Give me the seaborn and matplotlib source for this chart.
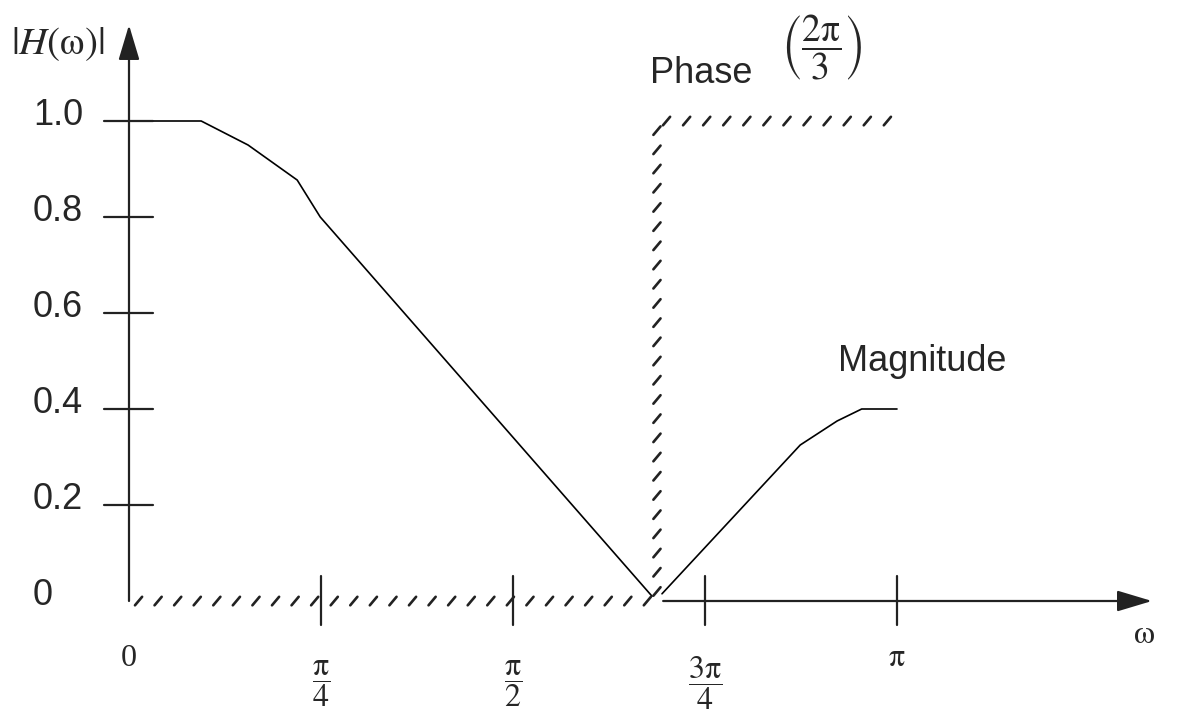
import numpy as np
import pandas as pd
import seaborn as sns
import matplotlib.pyplot as plt
from matplotlib import patheffects

# frequency in units of pi, magnitude |H(w)|
mag_left_w = [0, 0.094, 0.155, 0.219, 0.249, 0.681]
mag_left_h = [1.0, 1.0, 0.95, 0.877, 0.8, 0.01]
mag_right_w = [0.694, 0.874, 0.922, 0.954, 1.0]
mag_right_h = [0.015, 0.325, 0.375, 0.4, 0.4]

# phase (hatched), jumps to 2pi/3 at the zero of the magnitude
phase_w = [0, 0.6875, 0.6875, 1.0]
phase_h = [0, 0, 1, 1]

y_ticks = [0, 0.2, 0.4, 0.6, 0.8, 1.0]
y_ticklabels = ['0', '0.2', '0.4', '0.6', '0.8', '1.0']
x_ticks = [0, 0.25, 0.5, 0.75, 1.0]
x_ticklabels = ['0', r'$\dfrac{\mathrm{\pi}}{4}$', r'$\dfrac{\mathrm{\pi}}{2}$',
                r'$\dfrac{3\mathrm{\pi}}{4}$', r'$\mathrm{\pi}$']

sns.set_style('white')
plt.rcParams['font.family'] = ['Liberation Sans', 'DejaVu Sans']
plt.rcParams['mathtext.fontset'] = 'stix'

fig = plt.figure(figsize=(11.96, 7.15), dpi=100)
ax = fig.add_axes([0, 0, 1, 1])
ax.set_xlim(-129 / 768, (1196 - 129) / 768)
ax.set_ylim((601 - 715) / 480, 601 / 480)
ax.axis('off')

axcol = '#222222'

# magnitude curve
left = pd.DataFrame({'w': mag_left_w, 'h': mag_left_h})
right = pd.DataFrame({'w': mag_right_w, 'h': mag_right_h})
sns.lineplot(data=left, x='w', y='h', sort=False, estimator=None, color='black', lw=1.2, ax=ax)
sns.lineplot(data=right, x='w', y='h', sort=False, estimator=None, color='black', lw=1.2, ax=ax)

# phase, drawn as hatched strokes only (length is relative to spacing)
segs = [(0, 1, 50), (1, 2, -40), (2, 3, 50)]
for a, b, ang in segs:
    ax.plot(phase_w[a:b + 1], phase_h[a:b + 1], color=axcol, lw=1.9,
            path_effects=[patheffects.TickedStroke(offset=(-2.6, -3.1), spacing=13.8,
                                                   angle=ang, length=0.58)])

# axes with arrows
arr = dict(arrowstyle='-|>,head_length=1.5,head_width=0.45', mutation_scale=14.4,
           color=axcol, lw=1.6, shrinkA=0, shrinkB=0)
ax.annotate('', xy=(0, 1.2), xytext=(0, 0), arrowprops=arr)
ax.annotate('', xy=(1.332, 0), xytext=(phase_w[1] + 0.008, 0), arrowprops=arr)

# y ticks and labels
for yv, lab in zip(y_ticks, y_ticklabels):
    if yv > 0:
        ax.plot([-0.0326, 0.031], [yv, yv], color=axcol, lw=1.6)
    ax.text(-0.125, yv - 0.0083, lab, fontsize=26, ha='left', va='baseline')

# x ticks and labels
for xv, lab in zip(x_ticks, x_ticklabels):
    if xv > 0:
        ax.plot([xv, xv], [0.052, -0.05], color=axcol, lw=1.6)
    ypos = -0.171 if 'frac' in lab else -0.12
    ax.text(xv, ypos, lab, fontsize=23, ha='center', va='center', family='Liberation Serif')

ax.text(1.3216, -0.069, r'$\mathrm{\omega}$', fontsize=24, ha='center', va='center')
ax.text(-0.0924, 1.16, r'$|H(\mathrm{\omega})|$', fontsize=28, ha='center', va='center')
ax.text(0.678, 1.079, 'Phase', fontsize=26, ha='left', va='baseline')
ax.text(0.902, 1.152, r'$\left(\dfrac{2\mathrm{\pi}}{3}\right)$', fontsize=27, ha='center', va='center')
ax.text(0.923, 0.479, 'Magnitude', fontsize=26, ha='left', va='baseline')

plt.savefig('out.png', dpi=100)
